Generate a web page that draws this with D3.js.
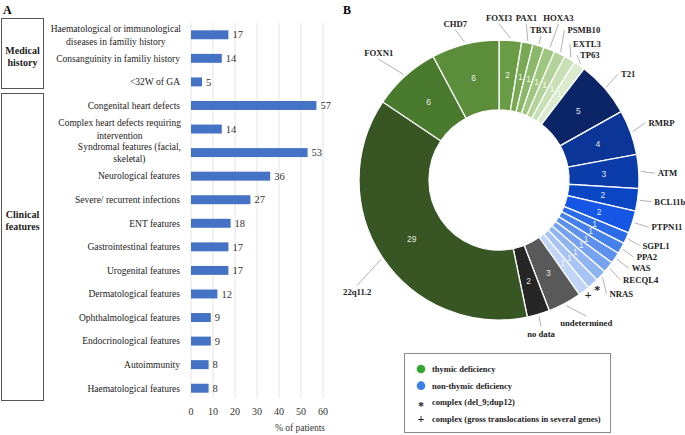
<!DOCTYPE html>
<html><head><meta charset="utf-8">
<script src="https://cdn.jsdelivr.net/npm/d3@7/dist/d3.min.js"></script>
<style>
body{margin:0;background:#fff;}
svg{display:block;}
</style></head>
<body>
<svg id="c" width="685" height="435"></svg>
<script>
// ---------- Panel A data ----------
const categories = [
  "Haematological or immunological\ndiseases in familiy history",
  "Consanguinity in familiy history",
  "<32W of GA",
  "Congenital heart defects",
  "Complex heart defects requiring\nintervention",
  "Syndromal features (facial,\nskeletal)",
  "Neurological features",
  "Severe/ recurrent infections",
  "ENT features",
  "Gastrointestinal features",
  "Urogenital features",
  "Dermatological features",
  "Ophthalmological features",
  "Endocrinological features",
  "Autoimmunity",
  "Haematological features"
];
const percentPatients = [17,14,5,57,14,53,36,27,18,17,17,12,9,9,8,8];
const xTicks = [0,10,20,30,40,50,60];
const groupNames = [["Medical","history"],["Clinical","features"]];

// ---------- Panel B data ----------
const genes = ["FOXI3","PAX1","TBX1","HOXA3","PSMB10","EXTL3","TP63",
  "T21","RMRP","ATM","BCL11b","PTPN11","SGPL1","PPA2","WAS","RECQL4","NRAS","*","+",
  "undetermined","no data","22q11.2","FOXN1","CHD7"];
const geneCounts = [2,1,1,1,1,1,1, 5,4,3,2,2,1,1,1,1,1,1,1, 3,2,29,6,6];
const legendItems = ["thymic deficiency","non-thymic deficiency","complex (del_9;dup12)","complex (gross translocations in several genes)"];

// styles
const sliceColors = ["#6a9c45","#79a955","#8bb86b","#9fc67f","#b3d39a","#c8e0b5","#dcebce",
  "#0b2566","#0b3596","#0b3ca9","#0a46c4","#1557e4","#2b6be8","#4680ea","#5e91ec","#77a2ef","#8fb4f2","#a7c4f4","#bfd4f7",
  "#595959","#262626","#375623","#4a7a2e","#5b8d3a"];
// label nudges [dx, dy, anchor]
const labelNudge = [[-13,-3,"middle"],[-5,-5,"middle"],[-3,3.5,"middle"],[2,-12.5,"middle"],[-1,-6,"start"],[-7,2,"start"],[-11,6,"start"],
  [1,-1,"start"],[-1,-3,"start"],[-1,3,"start"],[-3,-1,"start"],[0,-1,"start"],[-2,-1,"start"],[-2,-1,"start"],[0,-1,"start"],[-1,0,"start"],[-6,4,"start"],[-9,-9,"middle"],[-8,-12,"middle"],
  [12,2,"middle"],[-3,0,"middle"],[-9,23,"middle"],[-13,-8,"middle"],[-5,-1,"middle"]];

const svg = d3.select("#c");
const serif = "'Liberation Serif','Times New Roman',serif";

// ================= Panel A =================
svg.append("text").attr("x",3).attr("y",14).text("A")
  .attr("font-family",serif).attr("font-weight","bold").attr("font-size",12);

const x = d3.scaleLinear().domain([0,60]).range([191,323]);
const y = d3.scaleBand().domain(categories).range([23,400]).paddingInner(0.62).paddingOuter(0.31);
const gA = svg.append("g");

gA.selectAll("line.grid").data(xTicks).join("line")
  .attr("x1",d=>x(d)).attr("x2",d=>x(d)).attr("y1",23).attr("y2",398)
  .attr("stroke","#e4e4e4").attr("stroke-width",1);

gA.selectAll("rect.bar").data(categories).join("rect")
  .attr("x",x(0)).attr("y",d=>y(d)).attr("width",(d,i)=>x(percentPatients[i])-x(0))
  .attr("height",y.bandwidth()).attr("fill","#4472c4");

gA.selectAll("text.val").data(categories).join("text")
  .attr("x",(d,i)=>x(percentPatients[i])+4).attr("y",d=>y(d)+y.bandwidth()/2)
  .attr("dy","0.35em").text((d,i)=>percentPatients[i])
  .attr("font-family",serif).attr("font-size",10.5).attr("fill","#333");

// category labels
categories.forEach(c=>{
  const lines = c.split("\n");
  const cy = y(c)+y.bandwidth()/2;
  if(lines.length===1){
    gA.append("text").attr("x",180).attr("y",cy).attr("dy","0.35em")
      .attr("text-anchor","end").text(c)
      .attr("font-family",serif).attr("font-size",9.5).attr("fill","#222");
  } else {
    const tmp = lines.map(l=>gA.append("text").text(l).attr("font-family",serif).attr("font-size",9.5).attr("fill","#222"));
    const w = Math.max(...tmp.map(t=>t.node().getComputedTextLength()));
    tmp.forEach((t,k)=>{
      t.attr("x",181-w/2).attr("text-anchor","middle")
       .attr("y",cy+(k===0?-6:6.5)).attr("dy","0.35em");
    });
  }
});

// x axis tick labels
gA.selectAll("text.tick").data(xTicks).join("text")
  .attr("x",d=>x(d)).attr("y",411).attr("dy","0.35em").attr("text-anchor","middle")
  .text(d=>d).attr("font-family",serif).attr("font-size",10).attr("fill","#333");
gA.append("text").attr("x",300).attr("y",428).attr("dy","0.35em").attr("text-anchor","middle")
  .text("% of patients").attr("font-family",serif).attr("font-size",9.5).attr("fill","#333");

// group boxes
const groupBoxes = [[18,88,[50,62]],[93,400,[214,226]]];
groupBoxes.forEach((b,i)=>{
  gA.append("rect").attr("x",1.5).attr("y",b[0]+0.5).attr("width",42).attr("height",b[1]-b[0])
    .attr("fill","none").attr("stroke","#555").attr("stroke-width",1);
  groupNames[i].forEach((t,k)=>{
    gA.append("text").attr("x",22.5).attr("y",b[2][k]).attr("dy","0.35em").attr("text-anchor","middle")
      .text(t).attr("font-family",serif).attr("font-weight","bold").attr("font-size",10).attr("fill","#222");
  });
});

// ================= Panel B =================
svg.append("text").attr("x",343).attr("y",14).text("B")
  .attr("font-family",serif).attr("font-weight","bold").attr("font-size",12);

const cx = 499, cy = 180, rIn = 70, rOut = 140;
const gB = svg.append("g").attr("transform",`translate(${cx},${cy})`);
const pie = d3.pie().sort(null).value(d=>d).startAngle(0).endAngle(2*Math.PI);
const arcs = pie(geneCounts);
const arc = d3.arc().innerRadius(rIn).outerRadius(rOut);
gB.selectAll("path").data(arcs).join("path")
  .attr("d",arc).attr("fill",(d,i)=>sliceColors[i]).attr("stroke","#fff").attr("stroke-width",1.3);

const midArc = d3.arc().innerRadius(105).outerRadius(105);
gB.selectAll("text.num").data(arcs).join("text")
  .attr("transform",d=>`translate(${midArc.centroid(d)})`)
  .attr("text-anchor","middle").attr("dy","0.35em")
  .text(d=>d.data).attr("font-family","'Liberation Sans',Arial,sans-serif")
  .attr("font-size",8.5).attr("fill","#fff").attr("fill-opacity",0.9);

// outer labels + leaders
arcs.forEach((d,i)=>{
  const a = (d.startAngle+d.endAngle)/2;
  const sx = Math.sin(a), sy = -Math.cos(a);
  const nud = labelNudge[i];
  const lx = 160*sx + nud[0], ly = 160*sy + nud[1];
  const isSym = genes[i]==="*"||genes[i]==="+";
  let ex = lx, ey = ly;
  if(nud[2]==="start"){ ex = lx-3; }
  else if(nud[2]==="end"){ ex = lx+3; }
  else { ey = ly + (ly<0?6:-7); }
  if(!isSym){
    gB.append("line").attr("x1",142*sx).attr("y1",142*sy).attr("x2",ex).attr("y2",ey)
      .attr("stroke","#a8a8a8").attr("stroke-width",0.9);
  }
  gB.append("text").attr("x",lx).attr("y",ly).attr("dy","0.35em").attr("text-anchor",nud[2])
    .text(genes[i]).attr("font-family",serif).attr("font-weight","bold")
    .attr("font-size",isSym?12:8.7).attr("fill","#222");
});

// legend
const gL = svg.append("g");
gL.append("rect").attr("x",404.5).attr("y",353.5).attr("width",206).attr("height",79)
  .attr("fill","#fff").attr("stroke","#8a8a8a").attr("stroke-width",1);
const legY = d3.scalePoint().domain(legendItems).range([369,419]);
const legMarks = [["dot","#33a532"],["dot","#3a7fe6"],["sym","*"],["sym","+"]];
legendItems.forEach((t,i)=>{
  const yy = legY(t);
  if(legMarks[i][0]==="dot"){
    gL.append("circle").attr("cx",421).attr("cy",yy).attr("r",4.3).attr("fill",legMarks[i][1]);
  } else {
    gL.append("text").attr("x",421).attr("y",yy).attr("dy",legMarks[i][1]==="*"?"0.6em":"0.35em").attr("text-anchor","middle")
      .text(legMarks[i][1]).attr("font-family",serif).attr("font-weight","bold").attr("font-size",12).attr("fill","#222");
  }
  gL.append("text").attr("x",432).attr("y",yy).attr("dy","0.35em").text(t)
    .attr("font-family",serif).attr("font-weight","bold").attr("font-size",8.5).attr("fill","#222");
});
</script>
</body></html>
